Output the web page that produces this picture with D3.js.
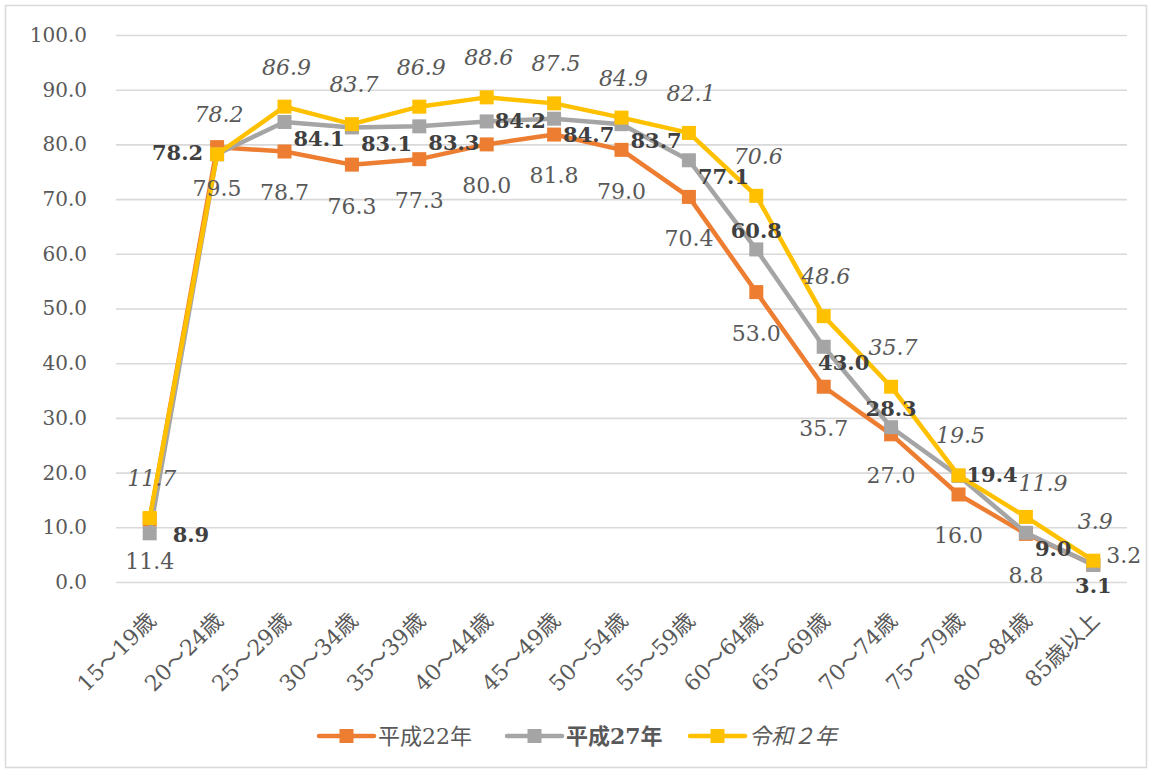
<!DOCTYPE html>
<html>
<head>
<meta charset="utf-8">
<script src="https://cdn.jsdelivr.net/npm/d3@7"></script>
<style>
  body { margin: 0; background: #fff; }
  svg { display: block; }
  .serif { font-family: "DejaVu Serif", "Noto Sans CJK JP", serif; }
</style>
</head>
<body>
<div id="chart"></div>
<script>
// age groups on the x axis
var categories = ["15～19歳", "20～24歳", "25～29歳", "30～34歳", "35～39歳", "40～44歳", "45～49歳",
  "50～54歳", "55～59歳", "60～64歳", "65～69歳", "70～74歳", "75～79歳", "80～84歳", "85歳以上"];

var seriesNames = ["平成22年", "平成27年", "令和２年"];

// values per series (%)
var h22 = [11.4, 79.5, 78.7, 76.3, 77.3, 80.0, 81.8, 79.0, 70.4, 53.0, 35.7, 27.0, 16.0, 8.8, 3.2];
var h27 = [8.9, 78.2, 84.1, 83.1, 83.3, 84.2, 84.7, 83.7, 77.1, 60.8, 43.0, 28.3, 19.4, 9.0, 3.1];
var r2 = [11.7, 78.2, 86.9, 83.7, 86.9, 88.6, 87.5, 84.9, 82.1, 70.6, 48.6, 35.7, 19.5, 11.9, 3.9];

var yTicks = [0, 10, 20, 30, 40, 50, 60, 70, 80, 90, 100];

// where each data label sits (see labelOffset)
var h22Pos = ["b", "b", "b", "b", "b", "b", "b", "b", "b", "b", "b", "b", "b", "b", "ru"];
var h27Pos = ["rr", "l", "rb", "rb", "rb", "r", "rb", "rb", "rb", "a2", "br", "a2", "r", "rb", "b2"];
var r2Pos = ["a", "a", "a", "a", "a", "a", "a", "a", "a", "a", "a", "a", "a", "ar", "a"];

var W = 1152, H = 773;
var plot = { left: 116, right: 1127, top: 35, bottom: 582 };

var svg = d3.select("#chart").append("svg")
  .attr("width", W)
  .attr("height", H);

svg.append("rect")
  .attr("x", 5.5).attr("y", 5.5)
  .attr("width", W - 11).attr("height", H - 11)
  .attr("fill", "#fff")
  .attr("stroke", "#d9d9d9")
  .attr("stroke-width", 1.5);

var x = d3.scalePoint()
  .domain(categories)
  .range([plot.left, plot.right])
  .padding(0.5);

var y = d3.scaleLinear()
  .domain([0, 100])
  .range([plot.bottom, plot.top]);

// y axis + gridlines
var yAxis = d3.axisLeft(y)
  .tickValues(yTicks)
  .tickFormat(d3.format(".1f"))
  .tickSizeInner(-(plot.right - plot.left))
  .tickSizeOuter(0)
  .tickPadding(29);

var gy = svg.append("g")
  .attr("class", "serif")
  .attr("transform", "translate(" + plot.left + ",0)")
  .call(yAxis);
gy.select(".domain").remove();
gy.selectAll(".tick line").attr("stroke", "#d9d9d9").attr("stroke-width", 1.6);
gy.selectAll(".tick text")
  .attr("fill", "#595959")
  .style("font-size", "20px");

// x axis labels, rotated
var xAxis = d3.axisBottom(x).tickSize(0);
var gx = svg.append("g")
  .attr("class", "serif")
  .attr("transform", "translate(0," + plot.bottom + ")")
  .call(xAxis);
gx.select(".domain").remove();
gx.selectAll(".tick text")
  .attr("fill", "#595959")
  .style("font-size", "22px")
  .attr("text-anchor", "end")
  .attr("x", 0).attr("y", 0).attr("dy", null)
  .attr("transform", "translate(7,40) rotate(-45)");

var series = [
  { name: seriesNames[0], values: h22, pos: h22Pos, color: "#ED7D31", weight: "normal", style: "normal", text: "#595959", size: 22 },
  { name: seriesNames[1], values: h27, pos: h27Pos, color: "#A5A5A5", weight: "bold", style: "normal", text: "#404040", size: 21 },
  { name: seriesNames[2], values: r2, pos: r2Pos, color: "#FFC000", weight: "normal", style: "italic", text: "#595959", size: 22 }
];

var line = d3.line()
  .x(function (d, i) { return x(categories[i]); })
  .y(function (d) { return y(d); });

var MK = 14;

series.forEach(function (s) {
  var g = svg.append("g").attr("class", "series");
  g.append("path")
    .datum(s.values)
    .attr("d", line)
    .attr("fill", "none")
    .attr("stroke", s.color)
    .attr("stroke-width", 4.5)
    .attr("stroke-linejoin", "round")
    .attr("stroke-linecap", "round");
  g.selectAll("rect")
    .data(s.values)
    .enter().append("rect")
    .attr("x", function (d, i) { return x(categories[i]) - MK / 2; })
    .attr("y", function (d) { return y(d) - MK / 2; })
    .attr("width", MK)
    .attr("height", MK)
    .attr("fill", s.color);
});

// label placement codes -> offset from the marker
function labelOffset(p) {
  switch (p) {
    case "a": return { dx: 2, dy: -40, anchor: "middle" };   // far above
    case "a2": return { dx: 0, dy: -19, anchor: "middle" };  // just above
    case "ar": return { dx: 17, dy: -34, anchor: "middle" }; // above, pushed right
    case "b": return { dx: 0, dy: 41, anchor: "middle" };    // far below
    case "b2": return { dx: 0, dy: 20, anchor: "middle" };   // just below
    case "br": return { dx: 20, dy: 16, anchor: "middle" };  // below, pushed right
    case "r": return { dx: 8, dy: -1, anchor: "start" };
    case "rr": return { dx: 23, dy: 1, anchor: "start" };    // further right
    case "ru": return { dx: 13, dy: -9, anchor: "start" };
    case "rb": return { dx: 9, dy: 16, anchor: "start" };
    case "l": return { dx: -14, dy: -2, anchor: "end" };
  }
  return { dx: 0, dy: 0, anchor: "middle" };
}

// data labels drawn after all lines so they sit on top
series.forEach(function (s) {
  svg.append("g").attr("class", "labels serif")
    .selectAll("text")
    .data(s.values)
    .enter().append("text")
    .each(function (d, i) {
      var o = labelOffset(s.pos[i]);
      d3.select(this)
        .attr("x", x(categories[i]) + o.dx)
        .attr("y", y(d) + o.dy)
        .attr("text-anchor", o.anchor);
    })
    .attr("dy", "0.36em")
    .style("font-size", s.size + "px")
    .style("font-weight", s.weight)
    .style("font-style", s.style)
    .attr("fill", s.text)
    .text(function (d) { return d3.format(".1f")(d); });
});

// legend
var legendX = [319, 507, 690];
var legend = svg.selectAll(".legend")
  .data(series)
  .enter().append("g")
  .attr("class", "legend")
  .attr("transform", function (d, i) { return "translate(" + legendX[i] + ",736)"; });

legend.append("line")
  .attr("x1", 0).attr("x2", 55)
  .attr("y1", 0).attr("y2", 0)
  .attr("stroke", function (d) { return d.color; })
  .attr("stroke-width", 4.5)
  .attr("stroke-linecap", "round");

legend.append("rect")
  .attr("x", 27.5 - MK / 2).attr("y", -MK / 2)
  .attr("width", MK).attr("height", MK)
  .attr("fill", function (d) { return d.color; });

legend.append("text")
  .attr("class", "serif")
  .attr("x", 59)
  .attr("y", 0)
  .attr("dy", "0.36em")
  .style("font-size", "22px")
  .style("font-weight", function (d) { return d.weight; })
  .style("font-style", function (d) { return d.style; })
  .attr("fill", "#595959")
  .text(function (d) { return d.name; });
</script>
</body>
</html>
